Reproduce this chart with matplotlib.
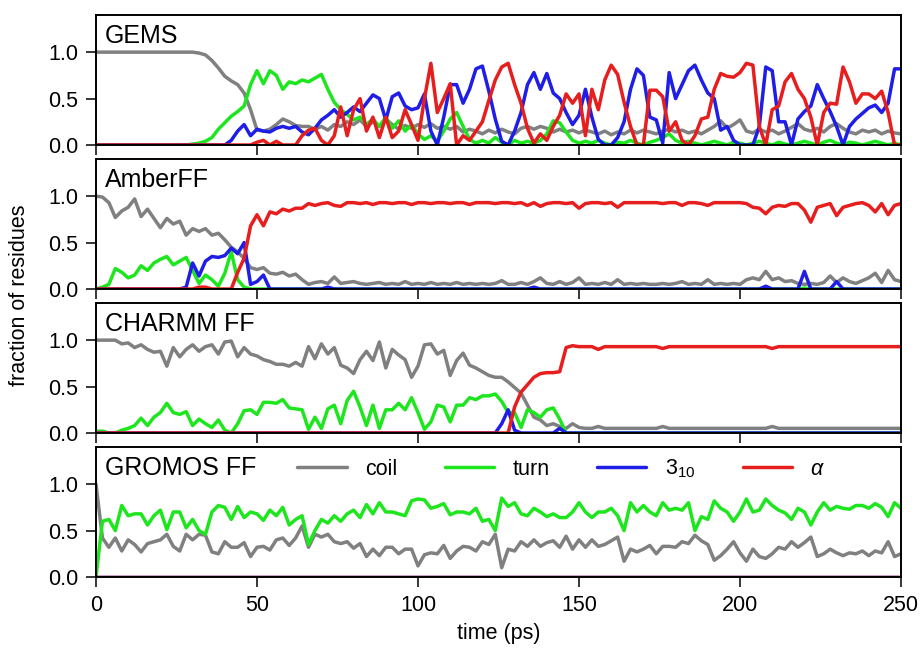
"""Secondary-structure fractions vs. simulation time for four force fields."""
import numpy as np
import matplotlib
matplotlib.use("Agg")
import matplotlib.pyplot as plt

# time axis (ps), one sample every 2 ps
time_ps = np.arange(0, 251, 2)

structure_labels = ["coil", "turn", "3$_{10}$", r"$\alpha$"]
panel_names = ["GEMS", "AmberFF", "CHARMM FF", "GROMOS FF"]

# ---- GEMS ----
gems_coil = [
    1.0, 1.0, 1.0, 1.0, 1.0, 1.0, 1.0, 1.0, 1.0, 1.0,
    1.0, 1.0, 1.0, 1.0, 1.0, 1.0, 0.99, 0.97, 0.91, 0.83,
    0.74, 0.69, 0.65, 0.56, 0.38, 0.16, 0.15, 0.17, 0.22, 0.28,
    0.25, 0.21, 0.2, 0.2, 0.17, 0.2, 0.16, 0.22, 0.2, 0.25,
    0.22, 0.27, 0.2, 0.25, 0.2, 0.28, 0.22, 0.17, 0.21, 0.18,
    0.22, 0.19, 0.23, 0.18, 0.2, 0.17, 0.2, 0.14, 0.17, 0.15,
    0.12, 0.16, 0.13, 0.17, 0.14, 0.12, 0.18, 0.2, 0.17, 0.2,
    0.18, 0.14, 0.17, 0.14, 0.16, 0.13, 0.16, 0.14, 0.12, 0.15,
    0.11, 0.14, 0.12, 0.16, 0.13, 0.16, 0.14, 0.12, 0.15, 0.17,
    0.14, 0.16, 0.13, 0.15, 0.12, 0.16, 0.2, 0.26, 0.18, 0.22,
    0.27, 0.15, 0.13, 0.17, 0.14, 0.16, 0.12, 0.15, 0.19, 0.23,
    0.17, 0.15, 0.18, 0.14, 0.2, 0.23, 0.18, 0.14, 0.12, 0.16,
    0.14, 0.16, 0.12, 0.15, 0.13, 0.12,
]
gems_turn = [
    0.0, 0.0, 0.0, 0.0, 0.0, 0.0, 0.0, 0.0, 0.0, 0.0,
    0.0, 0.0, 0.0, 0.0, 0.0, 0.01, 0.02, 0.04, 0.08, 0.17,
    0.24, 0.31, 0.36, 0.42, 0.65, 0.8, 0.66, 0.8, 0.75, 0.6,
    0.68, 0.66, 0.7, 0.68, 0.72, 0.76, 0.6, 0.46, 0.38, 0.33,
    0.27, 0.3, 0.22, 0.28, 0.2, 0.3, 0.18, 0.26, 0.15, 0.22,
    0.12, 0.06, 0.1, 0.04, 0.15, 0.28, 0.35, 0.2, 0.06, 0.02,
    0.05, 0.02, 0.08, 0.03, 0.0, 0.05, 0.02, 0.04, 0.02, 0.05,
    0.12, 0.26, 0.24, 0.14, 0.05, 0.02, 0.04, 0.02, 0.05, 0.02,
    0.0, 0.03, 0.02, 0.05, 0.02, 0.0, 0.03, 0.05, 0.08, 0.12,
    0.05, 0.02, 0.04, 0.02, 0.0, 0.02, 0.04, 0.02, 0.0, 0.03,
    0.02, 0.0, 0.02, 0.04, 0.02, 0.0, 0.03, 0.01, 0.0, 0.02,
    0.04, 0.02, 0.0, 0.03, 0.05, 0.02, 0.0, 0.03, 0.02, 0.0,
    0.02, 0.04, 0.02, 0.0, 0.02, 0.0,
]
gems_310 = [
    0.0, 0.0, 0.0, 0.0, 0.0, 0.0, 0.0, 0.0, 0.0, 0.0,
    0.0, 0.0, 0.0, 0.0, 0.0, 0.0, 0.0, 0.0, 0.0, 0.0,
    0.0, 0.05, 0.15, 0.22, 0.1, 0.17, 0.15, 0.14, 0.18, 0.2,
    0.18, 0.2, 0.14, 0.11, 0.18, 0.27, 0.32, 0.38, 0.3, 0.35,
    0.41, 0.36, 0.45, 0.54, 0.5, 0.27, 0.52, 0.56, 0.42, 0.38,
    0.4, 0.55, 0.15, 0.0, 0.3, 0.65, 0.65, 0.45, 0.6, 0.82,
    0.85, 0.58, 0.28, 0.04, 0.0, 0.15, 0.35, 0.65, 0.78, 0.6,
    0.77, 0.56, 0.5, 0.35, 0.22, 0.32, 0.6, 0.3, 0.06, 0.0,
    0.0, 0.08, 0.25, 0.6, 0.82, 0.75, 0.3, 0.27, 0.02, 0.78,
    0.5, 0.65, 0.8, 0.86, 0.7, 0.56, 0.5, 0.16, 0.2, 0.05,
    0.0, 0.0, 0.0, 0.2, 0.84, 0.8, 0.25, 0.25, 0.0, 0.28,
    0.36, 0.42, 0.65, 0.5, 0.36, 0.2, 0.0, 0.2, 0.28, 0.34,
    0.4, 0.43, 0.35, 0.45, 0.82, 0.82,
]
gems_alpha = [
    0.0, 0.0, 0.0, 0.0, 0.0, 0.0, 0.0, 0.0, 0.0, 0.0,
    0.0, 0.0, 0.0, 0.0, 0.0, 0.0, 0.0, 0.0, 0.0, 0.0,
    0.0, 0.0, 0.0, 0.0, 0.0, 0.03, 0.05, 0.0, 0.04, 0.0,
    0.0, 0.0, 0.1, 0.16, 0.18, 0.05, 0.0, 0.1, 0.41, 0.1,
    0.38, 0.5, 0.15, 0.3, 0.08, 0.3, 0.08, 0.15, 0.38, 0.22,
    0.05, 0.5, 0.88, 0.35, 0.5, 0.66, 0.0, 0.1, 0.05, 0.15,
    0.25, 0.48, 0.7, 0.84, 0.88, 0.65, 0.45, 0.18, 0.02, 0.12,
    0.05, 0.2, 0.32, 0.55, 0.45, 0.55, 0.1, 0.6, 0.38, 0.7,
    0.86, 0.76, 0.46, 0.2, 0.0, 0.0, 0.59, 0.59, 0.52, 0.15,
    0.25, 0.05, 0.0, 0.1, 0.28, 0.3, 0.6, 0.77, 0.74, 0.73,
    0.78, 0.88, 0.86, 0.2, 0.0, 0.38, 0.42, 0.68, 0.77, 0.6,
    0.5, 0.3, 0.0, 0.35, 0.45, 0.44, 0.84, 0.68, 0.45, 0.55,
    0.55, 0.5, 0.58, 0.35, 0.0, 0.0,
]

# ---- AmberFF ----
amber_coil = [
    1.0, 0.99, 0.93, 0.77, 0.84, 0.88, 0.97, 0.78, 0.86, 0.76,
    0.66, 0.76, 0.7, 0.73, 0.58, 0.65, 0.62, 0.65, 0.58, 0.6,
    0.53, 0.45, 0.4, 0.33, 0.23, 0.21, 0.23, 0.17, 0.16, 0.18,
    0.14, 0.16, 0.1, 0.05, 0.07, 0.08, 0.06, 0.13, 0.06, 0.07,
    0.08, 0.06, 0.05, 0.06, 0.07, 0.05, 0.06, 0.05, 0.08, 0.05,
    0.06, 0.05, 0.07, 0.05, 0.06, 0.05, 0.07, 0.05, 0.06, 0.05,
    0.06, 0.05, 0.06, 0.09, 0.05, 0.05, 0.07, 0.05, 0.08, 0.12,
    0.06, 0.05, 0.08, 0.05, 0.07, 0.12, 0.05, 0.06, 0.05, 0.07,
    0.05, 0.1, 0.05, 0.06, 0.05, 0.06, 0.05, 0.05, 0.06, 0.05,
    0.06, 0.08, 0.05, 0.06, 0.05, 0.1, 0.05, 0.06, 0.05, 0.06,
    0.05, 0.1, 0.12, 0.1, 0.19, 0.1, 0.12, 0.08, 0.09, 0.06,
    0.05, 0.06, 0.05, 0.07, 0.14, 0.07, 0.12, 0.08, 0.06, 0.09,
    0.12, 0.17, 0.07, 0.2, 0.1, 0.08,
]
amber_turn = [
    0.0, 0.02, 0.05, 0.22, 0.18, 0.12, 0.15, 0.25, 0.2, 0.28,
    0.32, 0.35, 0.26, 0.3, 0.34, 0.2, 0.06, 0.15, 0.1, 0.03,
    0.17, 0.4, 0.1, 0.02, 0.0, 0.0, 0.0, 0.0, 0.0, 0.0,
    0.0, 0.0, 0.0, 0.0, 0.0, 0.0, 0.0, 0.0, 0.0, 0.0,
    0.0, 0.0, 0.0, 0.0, 0.0, 0.0, 0.0, 0.0, 0.0, 0.0,
    0.0, 0.0, 0.0, 0.0, 0.0, 0.0, 0.0, 0.0, 0.0, 0.0,
    0.0, 0.0, 0.0, 0.0, 0.0, 0.0, 0.0, 0.0, 0.0, 0.0,
    0.0, 0.0, 0.0, 0.0, 0.0, 0.0, 0.0, 0.0, 0.0, 0.0,
    0.0, 0.0, 0.0, 0.0, 0.0, 0.0, 0.0, 0.0, 0.0, 0.0,
    0.0, 0.0, 0.0, 0.0, 0.0, 0.0, 0.0, 0.0, 0.0, 0.0,
    0.0, 0.0, 0.0, 0.0, 0.0, 0.0, 0.0, 0.0, 0.0, 0.0,
    0.01, 0.0, 0.0, 0.0, 0.0, 0.0, 0.0, 0.0, 0.0, 0.0,
    0.0, 0.0, 0.0, 0.0, 0.0, 0.0,
]
amber_310 = [
    0.0, 0.0, 0.0, 0.0, 0.0, 0.0, 0.0, 0.0, 0.0, 0.0,
    0.0, 0.0, 0.0, 0.0, 0.02, 0.28, 0.14, 0.3, 0.35, 0.34,
    0.36, 0.44, 0.38, 0.5, 0.05, 0.08, 0.15, 0.0, 0.0, 0.0,
    0.0, 0.0, 0.0, 0.0, 0.0, 0.0, 0.02, 0.0, 0.0, 0.0,
    0.0, 0.0, 0.0, 0.0, 0.0, 0.0, 0.0, 0.0, 0.0, 0.0,
    0.0, 0.0, 0.0, 0.0, 0.0, 0.0, 0.0, 0.0, 0.0, 0.0,
    0.0, 0.0, 0.0, 0.0, 0.0, 0.0, 0.0, 0.0, 0.02, 0.0,
    0.0, 0.0, 0.0, 0.0, 0.0, 0.0, 0.0, 0.0, 0.0, 0.0,
    0.0, 0.0, 0.0, 0.0, 0.0, 0.0, 0.0, 0.0, 0.0, 0.0,
    0.0, 0.0, 0.0, 0.0, 0.0, 0.0, 0.0, 0.0, 0.0, 0.0,
    0.0, 0.0, 0.0, 0.0, 0.03, 0.0, 0.0, 0.0, 0.0, 0.0,
    0.19, 0.0, 0.0, 0.0, 0.0, 0.08, 0.0, 0.0, 0.0, 0.0,
    0.0, 0.0, 0.0, 0.0, 0.0, 0.0,
]
amber_alpha = [
    0.0, 0.0, 0.0, 0.0, 0.0, 0.0, 0.0, 0.0, 0.0, 0.0,
    0.0, 0.0, 0.0, 0.0, 0.0, 0.0, 0.02, 0.02, 0.0, 0.0,
    0.0, 0.0, 0.18, 0.33, 0.68, 0.8, 0.68, 0.83, 0.81, 0.86,
    0.84, 0.87, 0.87, 0.92, 0.9, 0.92, 0.93, 0.9, 0.89, 0.93,
    0.93, 0.92, 0.93, 0.91, 0.93, 0.93, 0.92, 0.93, 0.93, 0.91,
    0.93, 0.93, 0.92, 0.93, 0.93, 0.92, 0.93, 0.93, 0.91, 0.93,
    0.93, 0.93, 0.92, 0.93, 0.93, 0.92, 0.93, 0.9, 0.93, 0.89,
    0.92, 0.93, 0.93, 0.92, 0.93, 0.87, 0.92, 0.93, 0.93, 0.92,
    0.93, 0.88, 0.93, 0.93, 0.93, 0.93, 0.93, 0.93, 0.92, 0.93,
    0.93, 0.9, 0.93, 0.93, 0.92, 0.9, 0.93, 0.93, 0.93, 0.93,
    0.93, 0.92, 0.88, 0.87, 0.81, 0.88, 0.9, 0.89, 0.92, 0.92,
    0.85, 0.72, 0.88, 0.9, 0.92, 0.79, 0.88, 0.9, 0.92, 0.93,
    0.9, 0.83, 0.92, 0.8, 0.9, 0.92,
]

# ---- CHARMM FF ----
charmm_coil = [
    1.0, 1.0, 1.0, 1.0, 0.96, 0.97, 0.92, 0.95, 0.9, 0.87,
    0.88, 0.72, 0.92, 0.82, 0.9, 0.95, 0.88, 0.93, 0.95, 0.85,
    0.98, 0.99, 0.82, 0.92, 0.85, 0.83, 0.79, 0.77, 0.74, 0.74,
    0.72, 0.76, 0.72, 0.93, 0.8, 0.96, 0.85, 0.92, 0.73, 0.7,
    0.64, 0.79, 0.88, 0.78, 0.98, 0.7, 0.9, 0.84, 0.79, 0.6,
    0.72, 0.95, 0.96, 0.85, 0.89, 0.62, 0.78, 0.86, 0.73, 0.7,
    0.66, 0.62, 0.6, 0.6, 0.55, 0.49, 0.43, 0.3, 0.17, 0.14,
    0.08, 0.1, 0.07, 0.05, 0.1, 0.06, 0.05, 0.05, 0.07, 0.05,
    0.05, 0.05, 0.05, 0.05, 0.05, 0.05, 0.05, 0.05, 0.07, 0.05,
    0.05, 0.05, 0.05, 0.05, 0.05, 0.05, 0.05, 0.05, 0.05, 0.05,
    0.05, 0.05, 0.05, 0.05, 0.05, 0.07, 0.05, 0.05, 0.05, 0.05,
    0.05, 0.05, 0.05, 0.05, 0.05, 0.05, 0.05, 0.05, 0.05, 0.05,
    0.05, 0.05, 0.05, 0.05, 0.05, 0.05,
]
charmm_turn = [
    0.02, 0.02, 0.0, 0.0, 0.03, 0.05, 0.08, 0.16, 0.08, 0.17,
    0.22, 0.32, 0.22, 0.2, 0.23, 0.08, 0.15, 0.1, 0.06, 0.14,
    0.03, 0.0, 0.1, 0.24, 0.25, 0.2, 0.33, 0.33, 0.32, 0.36,
    0.27, 0.26, 0.25, 0.04, 0.17, 0.05, 0.26, 0.3, 0.1, 0.35,
    0.45, 0.28, 0.08, 0.3, 0.05, 0.25, 0.25, 0.32, 0.25, 0.38,
    0.22, 0.04, 0.12, 0.3, 0.28, 0.12, 0.3, 0.3, 0.38, 0.36,
    0.4, 0.4, 0.42, 0.34, 0.22, 0.22, 0.06, 0.25, 0.22, 0.17,
    0.25, 0.27, 0.15, 0.0, 0.0, 0.0, 0.0, 0.0, 0.0, 0.0,
    0.0, 0.0, 0.0, 0.0, 0.0, 0.0, 0.0, 0.0, 0.0, 0.0,
    0.0, 0.0, 0.0, 0.0, 0.0, 0.0, 0.0, 0.0, 0.0, 0.0,
    0.0, 0.0, 0.0, 0.0, 0.0, 0.0, 0.0, 0.0, 0.0, 0.0,
    0.0, 0.0, 0.0, 0.0, 0.0, 0.0, 0.0, 0.0, 0.0, 0.0,
    0.0, 0.0, 0.0, 0.0, 0.0, 0.0,
]
charmm_310 = [
    0.0, 0.0, 0.0, 0.0, 0.0, 0.0, 0.0, 0.0, 0.0, 0.0,
    0.0, 0.0, 0.0, 0.0, 0.0, 0.0, 0.0, 0.0, 0.0, 0.0,
    0.0, 0.0, 0.0, 0.0, 0.0, 0.0, 0.0, 0.0, 0.0, 0.0,
    0.0, 0.0, 0.0, 0.0, 0.0, 0.0, 0.0, 0.0, 0.0, 0.0,
    0.0, 0.0, 0.0, 0.0, 0.0, 0.0, 0.0, 0.0, 0.0, 0.0,
    0.0, 0.0, 0.0, 0.0, 0.0, 0.0, 0.0, 0.0, 0.0, 0.0,
    0.0, 0.0, 0.0, 0.1, 0.25, 0.03, 0.0, 0.0, 0.0, 0.0,
    0.0, 0.0, 0.05, 0.0, 0.0, 0.0, 0.0, 0.0, 0.0, 0.0,
    0.0, 0.0, 0.0, 0.0, 0.0, 0.0, 0.0, 0.0, 0.0, 0.0,
    0.0, 0.0, 0.0, 0.0, 0.0, 0.0, 0.0, 0.0, 0.0, 0.0,
    0.0, 0.0, 0.0, 0.0, 0.0, 0.0, 0.0, 0.0, 0.0, 0.0,
    0.0, 0.0, 0.0, 0.0, 0.0, 0.0, 0.0, 0.0, 0.0, 0.0,
    0.0, 0.0, 0.0, 0.0, 0.0, 0.0,
]
charmm_alpha = [
    0.0, 0.0, 0.0, 0.0, 0.0, 0.0, 0.0, 0.0, 0.0, 0.0,
    0.0, 0.0, 0.0, 0.0, 0.0, 0.0, 0.0, 0.0, 0.0, 0.0,
    0.0, 0.0, 0.0, 0.0, 0.0, 0.0, 0.0, 0.0, 0.0, 0.0,
    0.0, 0.0, 0.0, 0.0, 0.0, 0.0, 0.0, 0.0, 0.0, 0.0,
    0.0, 0.0, 0.0, 0.0, 0.0, 0.0, 0.0, 0.0, 0.0, 0.0,
    0.0, 0.0, 0.0, 0.0, 0.0, 0.0, 0.0, 0.0, 0.0, 0.0,
    0.0, 0.0, 0.0, 0.0, 0.0, 0.28, 0.44, 0.52, 0.6, 0.64,
    0.65, 0.65, 0.66, 0.92, 0.94, 0.93, 0.93, 0.93, 0.9, 0.93,
    0.93, 0.93, 0.93, 0.93, 0.93, 0.93, 0.93, 0.93, 0.91, 0.93,
    0.93, 0.93, 0.93, 0.93, 0.93, 0.93, 0.93, 0.93, 0.93, 0.93,
    0.93, 0.93, 0.93, 0.93, 0.93, 0.91, 0.93, 0.93, 0.93, 0.93,
    0.93, 0.93, 0.93, 0.93, 0.93, 0.93, 0.93, 0.93, 0.93, 0.93,
    0.93, 0.93, 0.93, 0.93, 0.93, 0.93,
]

# ---- GROMOS FF ----
gromos_coil = [
    1.0, 0.42, 0.32, 0.42, 0.28, 0.4, 0.35, 0.27, 0.36, 0.38,
    0.4, 0.46, 0.33, 0.28, 0.46, 0.4, 0.46, 0.45, 0.27, 0.25,
    0.38, 0.32, 0.32, 0.37, 0.22, 0.32, 0.33, 0.29, 0.4, 0.42,
    0.34, 0.42, 0.55, 0.32, 0.46, 0.43, 0.46, 0.38, 0.36, 0.38,
    0.31, 0.36, 0.22, 0.3, 0.23, 0.32, 0.32, 0.25, 0.3, 0.3,
    0.12, 0.24, 0.26, 0.25, 0.34, 0.2, 0.28, 0.33, 0.32, 0.28,
    0.38, 0.35, 0.46, 0.1, 0.3, 0.28, 0.38, 0.33, 0.4, 0.33,
    0.37, 0.39, 0.32, 0.44, 0.3, 0.4, 0.32, 0.4, 0.33, 0.35,
    0.39, 0.43, 0.17, 0.3, 0.27, 0.3, 0.34, 0.25, 0.33, 0.33,
    0.32, 0.38, 0.36, 0.45, 0.39, 0.35, 0.18, 0.23, 0.3, 0.38,
    0.26, 0.17, 0.3, 0.22, 0.2, 0.25, 0.32, 0.3, 0.38, 0.32,
    0.37, 0.43, 0.22, 0.25, 0.3, 0.26, 0.23, 0.26, 0.25, 0.28,
    0.23, 0.28, 0.26, 0.38, 0.22, 0.25,
]
gromos_turn = [
    0.0, 0.6, 0.62, 0.5, 0.77, 0.66, 0.68, 0.68, 0.56, 0.66,
    0.72, 0.51, 0.7, 0.7, 0.53, 0.62, 0.5, 0.46, 0.7, 0.77,
    0.75, 0.62, 0.76, 0.64, 0.7, 0.68, 0.61, 0.72, 0.66, 0.75,
    0.56, 0.62, 0.66, 0.35, 0.5, 0.62, 0.58, 0.66, 0.6, 0.68,
    0.72, 0.64, 0.78, 0.68, 0.8, 0.7, 0.7, 0.68, 0.66, 0.82,
    0.84, 0.83, 0.74, 0.76, 0.79, 0.67, 0.7, 0.7, 0.68, 0.74,
    0.6, 0.62, 0.5, 0.85, 0.76, 0.8, 0.68, 0.66, 0.74, 0.7,
    0.65, 0.68, 0.64, 0.64, 0.7, 0.8, 0.7, 0.64, 0.7, 0.7,
    0.74, 0.66, 0.5, 0.8, 0.7, 0.77, 0.7, 0.66, 0.8, 0.72,
    0.74, 0.72, 0.8, 0.5, 0.65, 0.62, 0.82, 0.74, 0.7, 0.6,
    0.7, 0.84, 0.7, 0.72, 0.84, 0.77, 0.72, 0.69, 0.62, 0.74,
    0.7, 0.56, 0.7, 0.8, 0.72, 0.76, 0.74, 0.73, 0.77, 0.77,
    0.74, 0.79, 0.75, 0.65, 0.8, 0.74,
]
gromos_310 = [
    0.0, 0.0, 0.0, 0.0, 0.0, 0.0, 0.0, 0.0, 0.0, 0.0,
    0.0, 0.0, 0.0, 0.0, 0.0, 0.0, 0.0, 0.0, 0.0, 0.0,
    0.0, 0.0, 0.0, 0.0, 0.0, 0.0, 0.0, 0.0, 0.0, 0.0,
    0.0, 0.0, 0.0, 0.0, 0.0, 0.0, 0.0, 0.0, 0.0, 0.0,
    0.0, 0.0, 0.0, 0.0, 0.0, 0.0, 0.0, 0.0, 0.0, 0.0,
    0.0, 0.0, 0.0, 0.0, 0.0, 0.0, 0.0, 0.0, 0.0, 0.0,
    0.0, 0.0, 0.0, 0.0, 0.0, 0.0, 0.0, 0.0, 0.0, 0.0,
    0.0, 0.0, 0.0, 0.0, 0.0, 0.0, 0.0, 0.0, 0.0, 0.0,
    0.0, 0.0, 0.0, 0.0, 0.0, 0.0, 0.0, 0.0, 0.0, 0.0,
    0.0, 0.0, 0.0, 0.0, 0.0, 0.0, 0.0, 0.0, 0.0, 0.0,
    0.0, 0.0, 0.0, 0.0, 0.0, 0.0, 0.0, 0.0, 0.0, 0.0,
    0.0, 0.0, 0.0, 0.0, 0.0, 0.0, 0.0, 0.0, 0.0, 0.0,
    0.0, 0.0, 0.0, 0.0, 0.0, 0.0,
]
gromos_alpha = list(gromos_310)  # no helix at all in GROMOS either

line_colors = ["#808080", "#1ee61e", "#1e1ee6", "#e61e1e"]


def main():
    plt.rcParams["font.family"] = ["Liberation Sans", "DejaVu Sans"]
    plt.rcParams["mathtext.fontset"] = "custom"
    plt.rcParams["mathtext.rm"] = "Liberation Sans"
    plt.rcParams["mathtext.it"] = "Liberation Sans:italic"

    panels = [
        (gems_coil, gems_turn, gems_310, gems_alpha),
        (amber_coil, amber_turn, amber_310, amber_alpha),
        (charmm_coil, charmm_turn, charmm_310, charmm_alpha),
        (gromos_coil, gromos_turn, gromos_310, gromos_alpha),
    ]

    W, H = 921, 652
    fig = plt.figure(figsize=(W / 100, H / 100), dpi=100)

    # panels stacked by hand: 130 px tall, 14 px gap
    axes = []
    for i, (name, series) in enumerate(zip(panel_names, panels)):
        top = 15 + i * 144
        ax = fig.add_axes([96 / W, 1 - (top + 130) / H, 805 / W, 130 / H])
        for values, color, label in zip(series, line_colors, structure_labels):
            ax.plot(time_ps, values, color=color, lw=2.5, label=label,
                    solid_joinstyle="round", solid_capstyle="round")
        ax.set_xlim(0, 250)
        ax.set_ylim(0, 1.4)
        ax.set_yticks([0.0, 0.5, 1.0])
        ax.set_yticklabels(["0.0", "0.5", "1.0"])
        ax.set_xticks([0, 50, 100, 150, 200, 250])
        ax.tick_params(direction="out", length=7, width=1.1, labelsize=15.5,
                       pad=6)
        if i < 3:
            ax.tick_params(labelbottom=False)
        for sp in ax.spines.values():
            sp.set_linewidth(1.4)
        ax.text(0.011, 0.785, name, transform=ax.transAxes, fontsize=18,
                ha="left", va="baseline")
        axes.append(ax)

    axes[-1].legend(loc="center left", bbox_to_anchor=(0.25, 0.83), ncol=4,
                    frameon=False, fontsize=15.5, handlelength=2.3,
                    handletextpad=0.85, columnspacing=2.2, borderpad=0,
                    borderaxespad=0)

    fig.text(20 / W, 1 - 295 / H, "fraction of residues", rotation=90,
             ha="center", va="center", fontsize=15.5)
    fig.text(499 / W, 1 - 633 / H, "time (ps)", ha="center", va="center",
             fontsize=15.5)

    fig.savefig("out.png", dpi=100)
    plt.close(fig)


if __name__ == "__main__":
    main()
